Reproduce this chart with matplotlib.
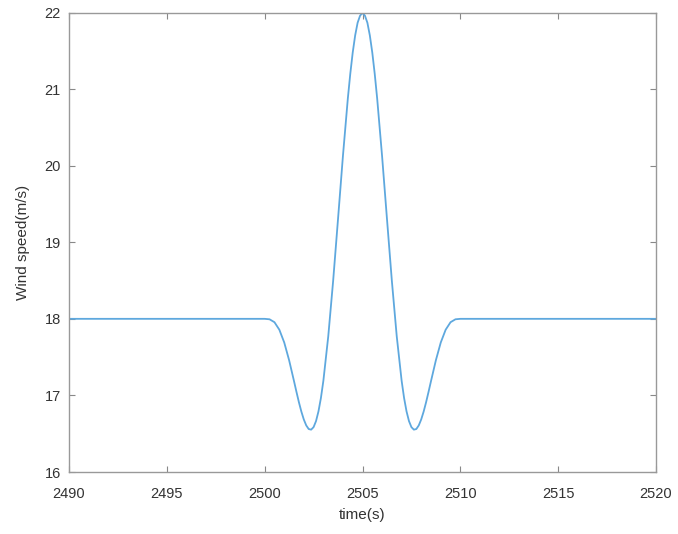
import numpy as np
import matplotlib
matplotlib.use('Agg')
import matplotlib.pyplot as plt

plt.rcParams['font.family'] = ['Liberation Sans', 'DejaVu Sans']

# time (s) and wind speed (m/s)
time = [2490, 2500, 2500.25, 2500.5, 2500.75, 2501, 2501.25, 2501.5, 2501.625,
        2501.75, 2501.875, 2502, 2502.125, 2502.25, 2502.375, 2502.5, 2502.625,
        2502.75, 2502.875, 2503, 2503.25, 2503.5, 2503.75,
        2504, 2504.25, 2504.375, 2504.5, 2504.625, 2504.75, 2504.875, 2505,
        2505.125, 2505.25, 2505.375, 2505.5, 2505.625, 2505.75,
        2506, 2506.25, 2506.5, 2506.75, 2507, 2507.125, 2507.25, 2507.375,
        2507.5, 2507.625, 2507.75, 2507.875, 2508, 2508.125, 2508.25, 2508.375,
        2508.5, 2508.75, 2509, 2509.25, 2509.5, 2509.75,
        2510, 2520]
speed = [18.0, 18.0, 17.994, 17.956, 17.858, 17.691, 17.459, 17.186, 17.046,
         16.911, 16.789, 16.686, 16.608, 16.561, 16.553, 16.586, 16.665,
         16.792, 16.967, 17.191, 17.772, 18.497, 19.307,
         20.127, 20.876, 21.199, 21.477, 21.701, 21.866, 21.958, 21.996,
         21.958, 21.866, 21.701, 21.477, 21.199, 20.876,
         20.127, 19.307, 18.497, 17.772, 17.191, 16.967, 16.792, 16.665,
         16.586, 16.553, 16.561, 16.608, 16.686, 16.789, 16.911, 17.046,
         17.186, 17.459, 17.691, 17.858, 17.956, 17.994,
         18.0, 18.0]

xticks = [2490, 2495, 2500, 2505, 2510, 2515, 2520]
yticks = [16, 17, 18, 19, 20, 21, 22]

fig = plt.figure(figsize=(6.78, 5.34), dpi=100)
ax = fig.add_axes([69/678, 1 - 472/534, (656-69)/678, (472-12.5)/534])

ax.plot(time, speed, color='#5ea8de', linewidth=1.3)

ax.set_xlim(2490, 2520)
ax.set_ylim(16, 22)
ax.set_xticks(xticks)
ax.set_yticks(yticks)
ax.tick_params(direction='in', top=True, right=True, length=4,
               color='#888888', labelcolor='#333333', labelsize=10.5)
ax.tick_params(axis='x', pad=11)
ax.tick_params(axis='y', pad=6)
for s in ax.spines.values():
    s.set_color('#999999')
    s.set_linewidth(1.0)

ax.set_xlabel('time(s)', fontsize=11, color='#333333', labelpad=5)
ax.set_ylabel('Wind speed(m/s)', fontsize=11, color='#333333', labelpad=10)

fig.savefig('out.png', dpi=100)
